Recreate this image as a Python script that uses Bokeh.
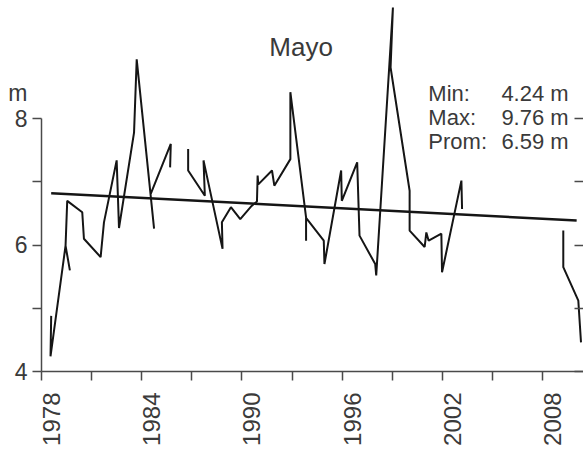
import math
from bokeh.plotting import figure
from bokeh.models import Label, LinearAxis, FixedTicker, Range1d, ColumnDataSource
from bokeh.embed import file_html
from bokeh.resources import INLINE

nan = float("nan")

# Water level in May (m); NaN marks gaps in the record
years = [1978.58, 1978.54, 1979.44, 1979.70, nan,
         1979.44, 1979.54, 1980.44, 1980.54, 1981.54, 1981.74, 1982.50, 1982.64,
         1983.54, 1983.70, 1984.74, nan,
         1984.54, 1985.74, 1985.70, nan,
         1986.78, 1986.78, 1987.78, 1987.70, 1988.84, 1988.80, 1989.34, 1989.90,
         1990.58, 1990.90, 1990.94, 1990.98, 1991.80, 1991.94, 1992.90, 1992.90,
         1993.84, 1993.84, nan,
         1993.84, 1994.90, 1994.94, 1995.94, 1995.98, 1996.90, 1997.04, 1997.98,
         1998.04, 1999.04, 1998.90, 2000.04, 2000.04, 2000.94, 2001.04, 2001.18,
         2001.94, 2001.98, 2003.14, 2003.18, nan,
         2009.24, 2009.24, 2010.14, 2010.30]
level = [4.88, 4.24, 5.99, 5.60, nan,
         5.99, 6.70, 6.52, 6.10, 5.81, 6.36, 7.34, 6.27,
         7.78, 8.94, 6.26, nan,
         6.81, 7.60, 7.23, nan,
         7.52, 7.18, 6.78, 7.34, 5.94, 6.36, 6.60, 6.41,
         6.62, 6.69, 7.10, 6.96, 7.18, 6.94, 7.36, 8.42,
         6.44, 6.07, nan,
         6.43, 6.07, 5.70, 7.18, 6.70, 7.31, 6.15, 5.70,
         5.52, 9.76, 8.81, 6.86, 6.23, 5.97, 6.20, 6.07,
         6.18, 5.57, 7.02, 6.57, nan,
         6.23, 5.65, 5.12, 4.46]

trend_years = [1978.58, 2010.04]
trend_level = [6.82, 6.39]

x_major = list(range(1978, 2009, 6))
x_all = list(range(1978, 2009, 3))
y_major = [4, 6, 8]
y_all = [4, 5, 6, 7, 8]

title_text = "Mayo"
stat_names = ["Min:", "Max:", "Prom:"]
stat_values = [4.24, 9.76, 6.59]
unit_label = "m"
UNIT_Y = 8.40  # where the unit sits, just above the top tick label

FONT = "Liberation Sans"
TXT = "#3a3a3a"
AX = "#4a4a4a"

X0, X1 = 1978, 2010.45
LABEL_SHIFT = 0.6  # years: rotated year labels sit just right of their tick

p = figure(width=583, height=450, output_backend="svg", toolbar_location=None,
           x_range=Range1d(X0, X1), y_range=Range1d(4, 9.87),
           min_border_left=41, min_border_right=0, min_border_top=0,
           min_border_bottom=79)
p.extra_x_ranges = {"labels": Range1d(X0 - LABEL_SHIFT, X1 - LABEL_SHIFT)}
p.outline_line_color = None
p.xgrid.visible = False
p.ygrid.visible = False
p.background_fill_color = "white"
p.border_fill_color = "white"

src = ColumnDataSource(dict(x=years, y=level))
p.line("x", "y", source=src, line_color="#151515", line_width=2)
p.line(trend_years, trend_level, line_color="#151515", line_width=2.5)

# x axis: tick marks every 3 years (no labels on this one)
xa = p.xaxis[0]
xa.ticker = FixedTicker(ticks=[], minor_ticks=x_all)
xa.major_tick_out = 0
xa.major_tick_in = 0
xa.minor_tick_out = 9
xa.minor_tick_in = 0
xa.major_label_standoff = 0
xa.axis_line_color = AX
xa.minor_tick_line_color = AX
xa.axis_line_width = 1.5
xa.minor_tick_line_width = 1.5

# year labels every 6 years
xl = LinearAxis(x_range_name="labels", ticker=FixedTicker(ticks=x_major, minor_ticks=[]))
xl.axis_line_color = None
xl.major_tick_line_color = None
xl.minor_tick_line_color = None
xl.major_tick_out = 0
xl.major_tick_in = 0
xl.major_label_orientation = math.pi / 2
xl.major_label_text_font = FONT
xl.major_label_text_font_size = "24px"
xl.major_label_text_color = TXT
xl.major_label_standoff = 12
p.add_layout(xl, "below")

# left y axis: line 4..8 and tick marks every metre (no labels on this one)
ya = p.yaxis[0]
ya.ticker = FixedTicker(ticks=[], minor_ticks=y_all)
ya.bounds = (4, 8)
ya.major_tick_out = 0
ya.major_tick_in = 0
ya.minor_tick_out = 9
ya.minor_tick_in = 0
ya.major_label_standoff = 0
ya.axis_line_color = AX
ya.minor_tick_line_color = AX
ya.axis_line_width = 1.5
ya.minor_tick_line_width = 1.5

# left labels: 4, 6, 8 and the unit above them
yl = LinearAxis(ticker=FixedTicker(ticks=y_major + [UNIT_Y], minor_ticks=[]))
overrides = {t: str(t) for t in y_major}
overrides[UNIT_Y] = unit_label
yl.major_label_overrides = overrides
yl.axis_line_color = None
yl.major_tick_line_color = None
yl.minor_tick_line_color = None
yl.major_tick_out = 0
yl.major_tick_in = 0
yl.major_label_text_font = FONT
yl.major_label_text_font_size = "23px"
yl.major_label_text_color = TXT
yl.major_label_standoff = 5
p.add_layout(yl, "left")

# right axis: inward ticks only (minor ticks carry no labels)
ra = LinearAxis(ticker=FixedTicker(ticks=[], minor_ticks=y_all))
ra.bounds = (4, 8)
ra.major_label_standoff = 0
ra.major_tick_out = 0
ra.major_tick_in = 0
ra.minor_tick_out = 0
ra.minor_tick_in = 9
ra.axis_line_color = AX
ra.minor_tick_line_color = AX
ra.minor_tick_line_width = 1.5
p.add_layout(ra, "right")

# panel title
p.add_layout(Label(x=1993.54, y=9.14, text=title_text, text_font=FONT,
                   text_font_size="26px", text_color=TXT,
                   text_align="center", text_baseline="middle"))

# statistics box
stat_y = [8.395, 8.016, 7.636]
for name, val, yy in zip(stat_names, stat_values, stat_y):
    p.add_layout(Label(x=2001.16, y=yy, text=name, text_font=FONT,
                       text_font_size="22px", text_color=TXT,
                       text_align="left", text_baseline="middle"))
    p.add_layout(Label(x=2009.56, y=yy, text=f"{val:.2f} m", text_font=FONT,
                       text_font_size="22px", text_color=TXT,
                       text_align="right", text_baseline="middle"))

open("out.html", "w").write(file_html(p, INLINE))
